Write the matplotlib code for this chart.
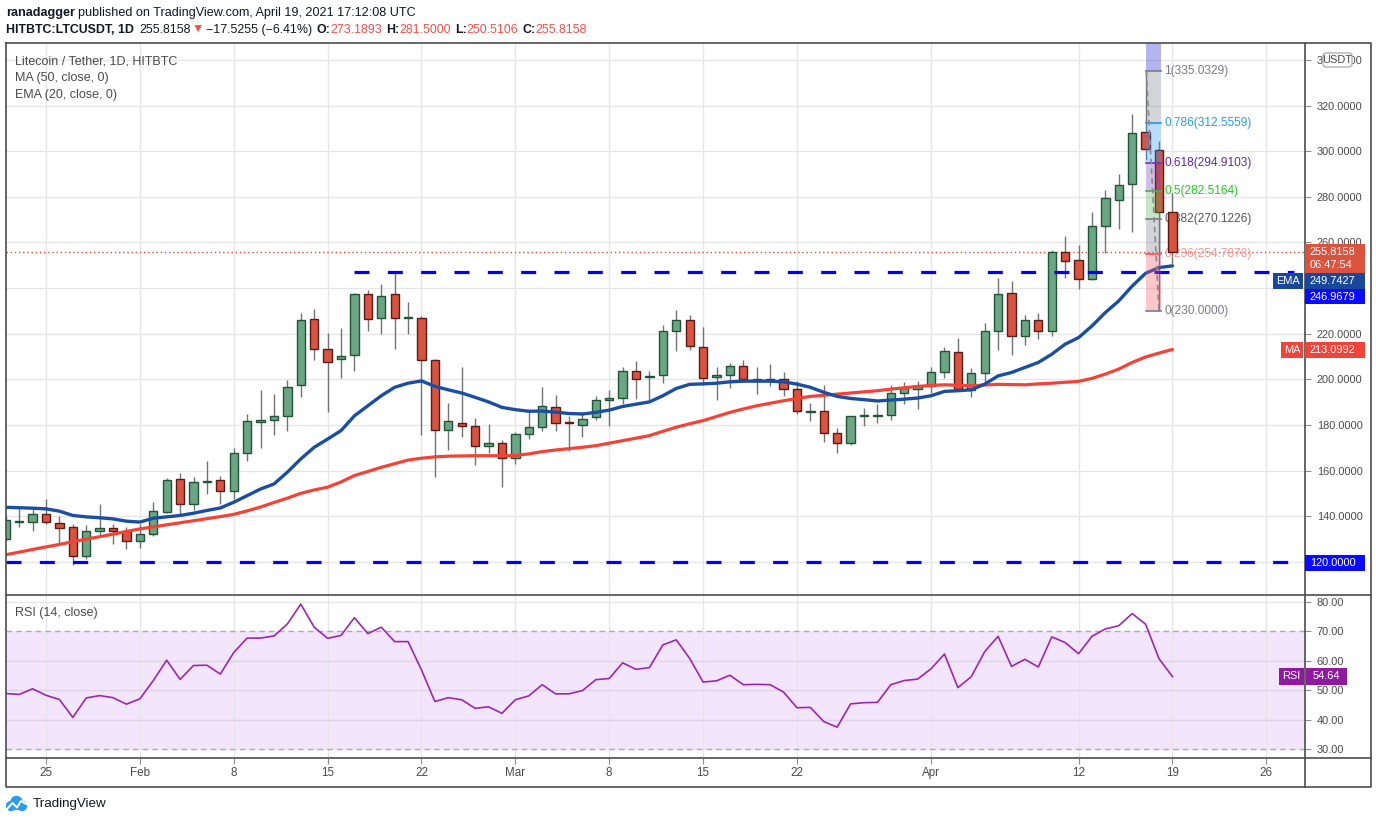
import numpy as np
import pandas as pd
import matplotlib
matplotlib.use('Agg')
import matplotlib.pyplot as plt
from matplotlib.patches import Rectangle, Circle, FancyBboxPatch
from matplotlib.lines import Line2D
from matplotlib.transforms import Affine2D

# ---- data (LTC/USDT daily, HitBTC) ----
dates = pd.date_range('2021-01-22', '2021-04-19', freq='D')

opens = [130.1, 137.5, 137.4, 140.9, 136.9, 135.2, 122.5, 133.4, 134.7, 133.4,
         129.3, 132.0, 142.0, 156.2, 145.5, 155.0, 155.8, 150.9, 167.6, 181.5,
         182.3, 183.8, 197.3, 226.6, 213.5, 208.7, 210.5, 237.6, 227.1, 237.2,
         227.0, 227.1, 208.3, 177.6, 180.7, 179.4, 170.6, 172.0,
         165.4, 175.9, 179.0, 187.7, 181.5, 180.1, 183.3, 191.0, 191.9, 203.5,
         200.8, 201.7, 221.0, 226.2, 214.0, 200.8, 201.7, 206.0, 199.8, 200.2,
         200.0, 195.6, 185.8, 186.0, 176.4, 172.0, 183.8, 184.0, 184.2, 193.8,
         195.6,
         196.9, 203.0, 211.8, 195.1, 202.6, 221.4, 238.0, 219.2, 226.2, 221.4,
         256.0, 252.5, 244.2, 267.4, 278.8, 285.8, 308.5, 300.5, 273.19]
highs = [140.0, 144.0, 143.2, 147.6, 140.0, 136.5, 136.3, 145.4, 136.6, 135.2,
         136.6, 146.4, 156.7, 159.0, 157.0, 164.2, 157.5, 169.9, 184.8, 195.3,
         193.5, 199.8, 229.0, 230.7, 220.2, 222.4, 238.0, 239.2, 241.7, 246.8,
         233.8, 227.8, 209.1, 189.5, 205.3, 182.9, 180.4, 173.3,
         176.8, 186.4, 196.6, 193.1, 183.9, 185.6, 192.8, 195.3, 205.3, 208.0,
         203.8, 224.0, 230.3, 228.3, 222.8, 205.3, 207.3, 208.6, 205.3, 206.6,
         203.0, 199.4, 189.8, 197.4, 178.6, 184.0, 187.5, 189.0, 197.7, 199.0,
         199.2,
         205.5, 214.0, 218.3, 205.0, 224.9, 244.6, 242.9, 228.0, 229.0, 256.5,
         263.0, 259.0, 273.5, 283.2, 290.0, 316.5, 335.0329, 304.7, 281.5]
lows = [129.0, 135.3, 133.7, 136.6, 128.3, 118.4, 121.0, 131.5, 127.9, 125.7,
        126.0, 131.5, 141.5, 141.0, 142.8, 149.8, 145.4, 147.6, 164.3, 169.9,
        175.7, 177.4, 192.1, 208.5, 185.8, 200.4, 203.7, 221.1, 219.8, 213.5,
        219.8, 175.7, 157.3, 169.1, 174.8, 162.6, 167.6, 153.0,
        163.0, 174.0, 177.2, 177.2, 168.7, 174.6, 182.0, 179.7, 189.0, 191.5,
        191.0, 198.5, 212.5, 213.0, 197.4, 191.0, 196.0, 199.0, 193.6, 197.0,
        192.5, 184.8, 181.6, 172.4, 167.8, 171.0, 179.5, 181.0, 182.3, 189.0,
        187.1,
        194.0, 200.4, 195.0, 192.2, 198.7, 213.0, 210.7, 215.0, 217.8, 219.0,
        244.6, 239.8, 243.5, 255.5, 266.0, 264.7, 296.0, 230.0, 250.5106]
closes = [138.2, 138.0, 140.9, 137.4, 134.7, 122.5, 133.4, 134.7, 133.6, 129.3,
          132.1, 142.2, 155.8, 145.3, 154.9, 155.5, 150.9, 167.6, 181.6, 182.0,
          183.8, 196.5, 226.2, 213.5, 207.4, 210.3, 237.2, 226.6, 236.7, 227.1,
          227.3, 208.3, 177.6, 181.6, 179.4, 170.6, 172.0, 165.4,
          175.9, 179.0, 188.1, 180.7, 181.0, 182.4, 190.8, 191.8, 203.5, 200.0,
          201.4, 221.0, 226.2, 214.4, 200.4, 201.7, 206.0, 200.0, 200.2, 199.8,
          195.6, 186.0, 186.3, 176.4, 172.0, 183.8, 184.2, 184.3, 193.8, 196.0,
          196.9,
          203.0, 212.2, 195.6, 202.6, 221.4, 237.6, 219.2, 226.2, 221.0, 256.0,
          252.0, 244.2, 267.4, 279.6, 285.4, 308.0, 301.2, 273.19, 255.8158]

ema20 = [143.9, 143.7, 143.5, 143.2, 142.2, 140.3, 139.7, 139.3, 138.8, 137.8,
         137.4, 139.1, 139.7, 140.3, 141.3, 142.5, 143.6, 146.1, 149.0, 151.9,
         154.1, 159.3, 165.1, 170.2, 173.8, 177.5, 184.0, 188.4, 192.8, 196.5,
         198.3, 199.3, 196.9, 195.4, 194.0, 192.1, 190.1, 187.7,
         186.7, 186.0, 186.1, 185.6, 185.0, 184.8, 185.5, 186.5, 188.1, 189.1,
         190.1, 192.8, 196.0, 197.8, 198.0, 198.3, 198.9, 199.2, 199.2, 199.2,
         198.9, 197.9, 196.5, 194.3, 192.5, 191.6, 191.1, 190.5, 190.9, 191.3,
         191.8,
         192.8, 194.7, 195.0, 195.4, 197.9, 201.5, 203.0, 205.2, 207.4, 211.0,
         215.4, 218.3, 223.4, 229.3, 234.4, 240.9, 246.5, 249.0, 249.7427]
ma50 = [123.1, 124.2, 125.4, 126.5, 127.6, 128.8, 129.9, 131.0, 132.1, 133.3,
        134.4, 135.3, 136.2, 137.1, 138.0, 138.9, 139.8, 140.8, 142.3, 144.0,
        146.0, 147.9, 150.0, 151.5, 152.7, 155.0, 157.8, 159.6, 161.4, 163.0,
        164.6, 165.4, 166.0, 166.3, 166.4, 166.5, 166.5, 166.5,
        166.6, 167.3, 168.3, 169.0, 169.6, 170.2, 170.9, 172.0, 173.1, 174.2,
        175.3, 177.2, 179.0, 180.5, 181.9, 183.7, 185.5, 187.0, 188.4, 189.5,
        190.6, 191.6, 192.5, 193.0, 193.5, 194.0, 194.5, 195.0, 195.7, 196.3,
        196.9,
        197.3, 197.6, 197.4, 197.2, 197.5, 197.8, 197.7, 197.6, 198.0, 198.3,
        198.7, 199.1, 200.4, 202.3, 204.5, 207.4, 209.8, 211.5, 213.0992]
rsi14 = [48.9, 48.6, 50.5, 48.3, 46.9, 40.8, 47.4, 48.2, 47.5, 45.3,
         47.1, 53.3, 60.2, 53.7, 58.4, 58.5, 55.5, 62.8, 67.7, 67.7,
         68.4, 72.5, 79.2, 71.4, 67.6, 68.6, 74.6, 69.2, 71.4, 66.5,
         66.5, 56.9, 46.2, 47.5, 46.8, 43.9, 44.4, 42.2,
         46.8, 48.1, 51.9, 48.8, 48.8, 49.9, 53.6, 54.0, 59.3, 57.1,
         57.7, 65.4, 67.1, 60.8, 52.8, 53.2, 55.1, 51.9, 52.0, 51.9,
         49.4, 44.1, 44.2, 39.4, 37.5, 45.4, 45.8, 45.9, 51.9, 53.3,
         53.8,
         57.3, 62.3, 50.9, 54.6, 63.1, 68.3, 58.1, 60.5, 57.9, 68.1,
         66.2, 62.4, 68.3, 70.8, 71.9, 76.0, 72.4, 60.7, 54.64]

hline_levels = [246.9679, 120.0]
hline_starts = ['2021-02-17', '2021-01-22']

fib_names = ['1', '0.786', '0.618', '0.5', '0.382', '0.236', '0']
fib_prices = [335.0329, 312.5559, 294.9103, 282.5164, 270.1226, 254.7878, 230.0]
fib_colors = ['#787b86', '#2196f3', '#673ab7', '#4caf50', '#787b86', '#f7525f', '#787b86']
fib_text_colors = ['#787b86', '#2a9be0', '#5e2a94', '#22c822', '#555555', '#f09a9a', '#787b86']
fib_start, fib_end = '2021-04-17', '2021-04-18'

tick_dates = ['2021-01-25', '2021-02-01', '2021-02-08', '2021-02-15', '2021-02-22',
              '2021-03-01', '2021-03-08', '2021-03-15', '2021-03-22', '2021-04-01',
              '2021-04-12', '2021-04-19', '2021-04-26']
tick_labels = ['25', 'Feb', '8', '15', '22', 'Mar', '8', '15', '22', 'Apr', '12', '19', '26']

price_ticks = list(range(120, 341, 20))
# labels hidden behind the price tags in the original
hidden_ticks = [120, 240]

# ---- layout ----
W, H = 1376, 823
plt.rcParams['font.family'] = ['Liberation Sans', 'DejaVu Sans']
plt.rcParams['lines.scale_dashes'] = False

fig = plt.figure(figsize=(W / 100, H / 100), dpi=100)
fig.patch.set_facecolor('white')
px = Affine2D().scale(1.0 / W, -1.0 / H).translate(0, 1) + fig.transFigure

origin = pd.Timestamp('2021-01-25')
def dnum(d):
    return (pd.Timestamp(d) - origin).days

x = np.array([(d - origin).days for d in dates], dtype=float)
X0, X1 = 6, 1305
TOP, MID, BOT, AXB = 42.7, 595.3, 758.3, 786.7
DAYPX, ORIGPX = 13.41, 46.0
xlim = ((X0 - ORIGPX) / DAYPX, (X1 - ORIGPX) / DAYPX)
xt = [dnum(d) for d in tick_dates]

ax = fig.add_axes([X0 / W, 1 - MID / H, (X1 - X0) / W, (MID - TOP) / H])
rax = fig.add_axes([X0 / W, 1 - BOT / H, (X1 - X0) / W, (BOT - MID) / H])

GRID = '#e6e6e6'
TXT = '#4a4a4a'

# ---- price pane ----
ax.set_xlim(xlim)
ax.set_ylim(105.3, 347.6)
for s in ax.spines.values():
    s.set_visible(False)
ax.set_xticks(xt)
ax.set_yticks(price_ticks)
ax.set_yticklabels(['' if v in hidden_ticks else '%.4f' % v for v in price_ticks])
ax.tick_params(axis='x', length=0, labelbottom=False)
ax.tick_params(axis='y', left=False, labelleft=False, right=True, labelright=True,
               length=4, color='#8c8c8c', labelsize=7.9, labelcolor=TXT, pad=4.5)
ax.grid(True, color=GRID, lw=1)
ax.set_axisbelow(True)

o = np.array(opens); c = np.array(closes); hi = np.array(highs); lo = np.array(lows)
up = c >= o
face = np.where(up, '#6ba583', '#d75442')
edge = np.where(up, '#225437', '#5b1a13')
ax.vlines(x, lo, hi, color='#737375', lw=1, zorder=3)
ax.bar(x, c - o, bottom=o, width=0.62, color=face, edgecolor=edge, linewidth=1, zorder=4)

ax.plot(x, ma50, color='#f44336', lw=2.3, zorder=4.2, solid_capstyle='round')
ax.plot(x, ema20, color='#1a4ea3', lw=2.4, zorder=4.3, solid_capstyle='round')

for lvl, st in zip(hline_levels, hline_starts):
    ax.plot([dnum(st), 93.1], [lvl, lvl], color='#0000ff', lw=2.3,
            dashes=(10.8, 13.2), dash_capstyle='butt', zorder=4.1)

ax.axhline(closes[-1], color='#e04b3c', lw=1, dashes=(1, 2), zorder=2)

# fib retracement
fx0, fx1 = dnum(fib_start) + 0.05, dnum(fib_end) + 0.15
ax.fill_between([fx0, fx1], fib_prices[0], 360, color='#4d4ddb', alpha=0.42, lw=0, zorder=4.5)
for i in range(len(fib_prices) - 1):
    ax.fill_between([fx0, fx1], fib_prices[i + 1], fib_prices[i], color=fib_colors[i],
                    alpha=0.32, lw=0, zorder=4.5)
for name, p, lc, tc in zip(fib_names, fib_prices, fib_colors, fib_text_colors):
    ax.plot([fx0, fx1], [p, p], color=lc, lw=1.2, zorder=4.6)
    ax.text(83.4, p, '%s(%.4f)' % (name, p), color=tc, fontsize=8.6,
            va='center', ha='left', zorder=3.5)
ax.plot([fx0, dnum(fib_end)], [fib_prices[0], fib_prices[-1]], color='#8a8a8a', lw=1.2,
        dashes=(4, 3), zorder=4.7)

ax.text(9 / (X1 - X0), 1 - (61.5 - TOP) / (MID - TOP), 'Litecoin / Tether, 1D, HITBTC',
        transform=ax.transAxes, color=TXT, fontsize=9, va='center')
ax.text(9 / (X1 - X0), 1 - (78.3 - TOP) / (MID - TOP), 'MA (50, close, 0)',
        transform=ax.transAxes, color=TXT, fontsize=9, va='center')
ax.text(9 / (X1 - X0), 1 - (95 - TOP) / (MID - TOP), 'EMA (20, close, 0)',
        transform=ax.transAxes, color=TXT, fontsize=9, va='center')

# ---- RSI pane ----
rax.set_xlim(xlim)
rax.set_ylim(26.95, 82.2)
for s in rax.spines.values():
    s.set_visible(False)
rax.axhspan(30, 70, color='#f3e6fc', zorder=0.1)
for v in [40, 50, 60]:
    rax.axhline(v, color='#ddd2e6', lw=1, zorder=0.6)
rax.axhline(80, color=GRID, lw=1, zorder=0.6)
for v in [30, 70]:
    rax.axhline(v, color='#b3a6ba', lw=1, dashes=(4, 3), zorder=0.7)
rax.plot(x, rsi14, color='#9b27af', lw=1.2, zorder=3)
rax.set_xticks(xt)
rax.set_xticklabels(tick_labels)
rax.grid(True, axis='x', color=GRID, lw=1)
rax.set_axisbelow(True)
rax.set_yticks([30, 40, 50, 60, 70, 80])
rax.set_yticklabels(['%.2f' % v for v in [30, 40, 50, 60, 70, 80]])
rax.tick_params(axis='x', direction='out', length=4, color='#8c8c8c',
                labelsize=8.4, labelcolor=TXT, pad=2.5)
rax.tick_params(axis='y', left=False, labelleft=False, right=True, labelright=True,
                length=4, color='#8c8c8c', labelsize=7.9, labelcolor=TXT, pad=4.5)
rax.text(9 / (X1 - X0), 1 - (613 - MID) / (BOT - MID), 'RSI (14, close)',
         transform=rax.transAxes, color=TXT, fontsize=9, va='center')

# ---- frame lines ----
def fline(xs, ys, color='#4d4d4d', lw=1.2):
    fig.add_artist(Line2D(xs, ys, transform=px, color=color, lw=lw, zorder=9))

fline([6, 1371, 1371, 6, 6], [TOP, TOP, AXB, AXB, TOP])
fline([X1, X1], [TOP, AXB])
fline([6, 1371], [MID, MID])
fline([6, 1371], [BOT, BOT])

# ---- right axis tags ----
def box(x0, y0, w, h, fc, ec='none'):
    fig.add_artist(Rectangle((x0, y0), w, h, transform=px, facecolor=fc,
                             edgecolor=ec, lw=1, zorder=10))

def label(xp, yp, s, color='white', size=7.9, ha='left', weight='normal'):
    fig.text(xp, yp, s, transform=px, color=color, fontsize=size, ha=ha, va='center',
             zorder=11, fontweight=weight)

box(1305, 244, 60, 29, '#d9533f')
label(1310, 252.3, '%.4f' % closes[-1])
label(1310, 265.5, '06:47:54')

box(1273, 273.3, 30, 15.4, '#1a4799')
label(1288, 281, 'EMA', ha='center')
box(1305, 273.3, 60, 15.4, '#1a4799')
label(1310, 281, '%.4f' % ema20[-1])

box(1305, 288.7, 60, 15.6, '#0a0aff')
label(1310, 296.5, '%.4f' % hline_levels[0])

box(1281, 342, 22, 16, '#f0433a')
label(1292, 350, 'MA', ha='center')
box(1305, 342, 60, 16, '#f0433a')
label(1310, 350, '%.4f' % ma50[-1])

box(1305, 555, 60, 16, '#0a0aff')
label(1310, 563, '%.4f' % hline_levels[1])

box(1279, 668, 25, 17, '#8e1b9e')
label(1291.5, 676.5, 'RSI', ha='center')
box(1306, 668, 41, 17, '#8e1b9e')
label(1326.5, 676.5, '%.2f' % rsi14[-1], ha='center')

fig.add_artist(FancyBboxPatch((1323, 53), 29, 14, boxstyle='round,pad=0,rounding_size=3',
                              transform=px, facecolor='white', edgecolor='#b0b0b0',
                              lw=1, zorder=10))
label(1337.5, 60, 'USDT', color=TXT, ha='center')

# ---- header ----
renderer = fig.canvas.get_renderer()

def rich(parts, xp, yp, size=9.2):
    for s, color, weight, gap in parts:
        t = fig.text(xp, yp, s, transform=px, color=color, fontsize=size,
                     fontweight=weight, ha='left', va='center')
        xp += t.get_window_extent(renderer=renderer).width + gap

DARK = '#131722'
RED = '#f0504a'
rich([('ranadagger', DARK, 'bold', 3.5),
      ('published on TradingView.com, April 19, 2021 17:12:08 UTC', DARK, 'normal', 0)],
     6, 13.3, 9.1)
rich([('HITBTC:LTCUSDT, 1D', DARK, 'bold', 6),
      ('255.8158', DARK, 'normal', 0.5),
      ('\u25bc', RED, 'normal', 2.5),
      ('\u221217.5255 (\u22126.41%)', DARK, 'normal', 4),
      ('O:', DARK, 'bold', 0), ('273.1893', RED, 'normal', 4),
      ('H:', DARK, 'bold', 0), ('281.5000', RED, 'normal', 4),
      ('L:', DARK, 'bold', 0), ('250.5106', RED, 'normal', 4),
      ('C:', DARK, 'bold', 0), ('255.8158', RED, 'normal', 0)],
     6, 30, 8.9)

# ---- footer logo ----
LOGO = '#2a9df0'
for cx, cy, r in [(11, 806, 4.5), (16.5, 802, 5.5), (22, 806, 4.5)]:
    fig.add_artist(Circle((cx, cy), r, transform=px, color=LOGO, zorder=10))
box(11, 806, 11, 4.5, LOGO)
fig.add_artist(Line2D([7, 12.5, 17, 21, 26], [809, 803, 807.5, 801, 804], transform=px,
                      color='white', lw=1.4, zorder=11))
label(33, 804.3, 'TradingView', color=DARK, size=9.6)

fig.savefig('out.png', dpi=100)
